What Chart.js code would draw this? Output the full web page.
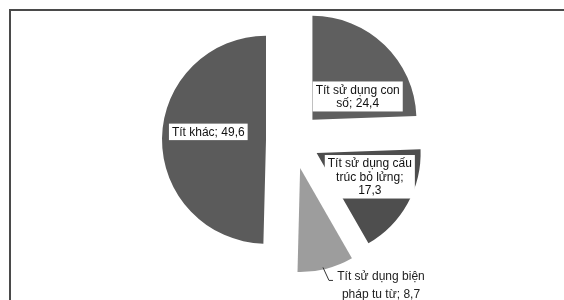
<!DOCTYPE html>
<html lang="vi">
<head>
<meta charset="UTF-8">
<title>Tít</title>
<script src="https://cdn.jsdelivr.net/npm/chart.js"></script>
<style>
  html, body { margin: 0; padding: 0; background: #fff; }
  #wrap { position: relative; width: 564px; height: 300px; overflow: hidden; }
  #frame { position: absolute; left: 9px; top: 9px; width: 600px; height: 400px;
           border-top: 2px solid #4a4a4a; border-left: 2px solid #4a4a4a; }
  canvas { position: absolute; left: 0; top: 0; }
</style>
</head>
<body>
<div id="wrap">
  <div id="frame"></div>
  <canvas id="pie" width="564" height="300"></canvas>
</div>
<script>
const categories = ['Tít sử dụng con số', 'Tít sử dụng cấu trúc bỏ lửng', 'Tít sử dụng biện pháp tu từ', 'Tít khác']
const values = [24.4, 17.3, 8.7, 49.6]

// look
const sliceColors = ['#5f5f5f', '#4e4e4e', '#9d9d9d', '#5b5b5b']
const explode = [28, 27, 29, 27]          // px each slice is pulled out
const labelT = [0.714, 0.42, 0.54, 0.539] // where in the slice angle the label sits
const labelR = [0.49, 0.56, 0.98, 0.56]   // fraction of radius
const wrapWidth = [95, 90, 96, 120]
const outside = [false, false, true, false]
const narrow = 0.89 // horizontal squeeze of the outside label font

const fmt = (v) => String(v).replace('.', ',')

function wrap(ctx, text, maxW, sx = 1) {
  const words = text.split(' ')
  const lines = []
  let cur = ''
  for (const w of words) {
    const test = cur ? cur + ' ' + w : w
    if (cur && ctx.measureText(test).width * sx > maxW) {
      lines.push(cur)
      cur = w
    } else cur = test
  }
  if (cur) lines.push(cur)
  return lines
}

const explodePlugin = {
  id: 'explode',
  afterDatasetUpdate(chart, args) {
    args.meta.data.forEach((arc, i) => {
      const mid = (arc.startAngle + arc.endAngle) / 2
      arc.x += Math.cos(mid) * explode[i]
      arc.y += Math.sin(mid) * explode[i]
    })
  },
}

const labelPlugin = {
  id: 'sliceLabels',
  afterDatasetsDraw(chart) {
    const ctx = chart.ctx
    const arcs = chart.getDatasetMeta(0).data
    arcs.forEach((arc, i) => {
      const a = arc.startAngle + labelT[i] * (arc.endAngle - arc.startAngle)
      const px = arc.x + Math.cos(a) * labelR[i] * arc.outerRadius
      const py = arc.y + Math.sin(a) * labelR[i] * arc.outerRadius
      const text = categories[i] + '; ' + fmt(values[i])
      ctx.save()
      ctx.textAlign = 'center'
      ctx.textBaseline = 'middle'
      if (!outside[i]) {
        ctx.font = '12px "Liberation Sans", Arial, sans-serif'
        const lines = wrap(ctx, text, wrapWidth[i])
        const lh = 13.5
        const w = Math.max(...lines.map((l) => ctx.measureText(l).width))
        const h = lines.length * lh
        ctx.fillStyle = '#fff'
        ctx.fillRect(px - w / 2 - 3, py - h / 2 - 1.5, w + 6, h + 3)
        ctx.fillStyle = '#111'
        lines.forEach((l, k) => ctx.fillText(l, px, py - h / 2 + lh / 2 + k * lh + 0.5))
      } else {
        // leader line + text below the slice
        const x1 = px + 6, y1 = py + 13
        ctx.strokeStyle = '#333'
        ctx.lineWidth = 1
        ctx.beginPath()
        ctx.moveTo(px, py)
        ctx.lineTo(x1, y1)
        ctx.lineTo(x1 + 4, y1)
        ctx.stroke()
        ctx.font = '13.5px "Liberation Sans", Arial, sans-serif'
        const lines = wrap(ctx, text, wrapWidth[i], narrow)
        ctx.fillStyle = '#222'
        const cx = x1 + 52
        ctx.translate(cx, 0)
        ctx.scale(narrow, 1)
        lines.forEach((l, k) => ctx.fillText(l, 0, y1 - 4.5 + k * 18))
      }
      ctx.restore()
    })
  },
}

new Chart(document.getElementById('pie'), {
  type: 'pie',
  data: {
    labels: categories,
    datasets: [{
      data: values,
      backgroundColor: sliceColors,
      borderWidth: 0,
    }],
  },
  options: {
    responsive: false,
    animation: false,
    radius: 104,
    layout: { padding: { left: 22, right: 0, top: 0, bottom: 20 } },
    plugins: {
      legend: { display: false },
      tooltip: { enabled: false },
    },
  },
  plugins: [explodePlugin, labelPlugin],
})
</script>
</body>
</html>
